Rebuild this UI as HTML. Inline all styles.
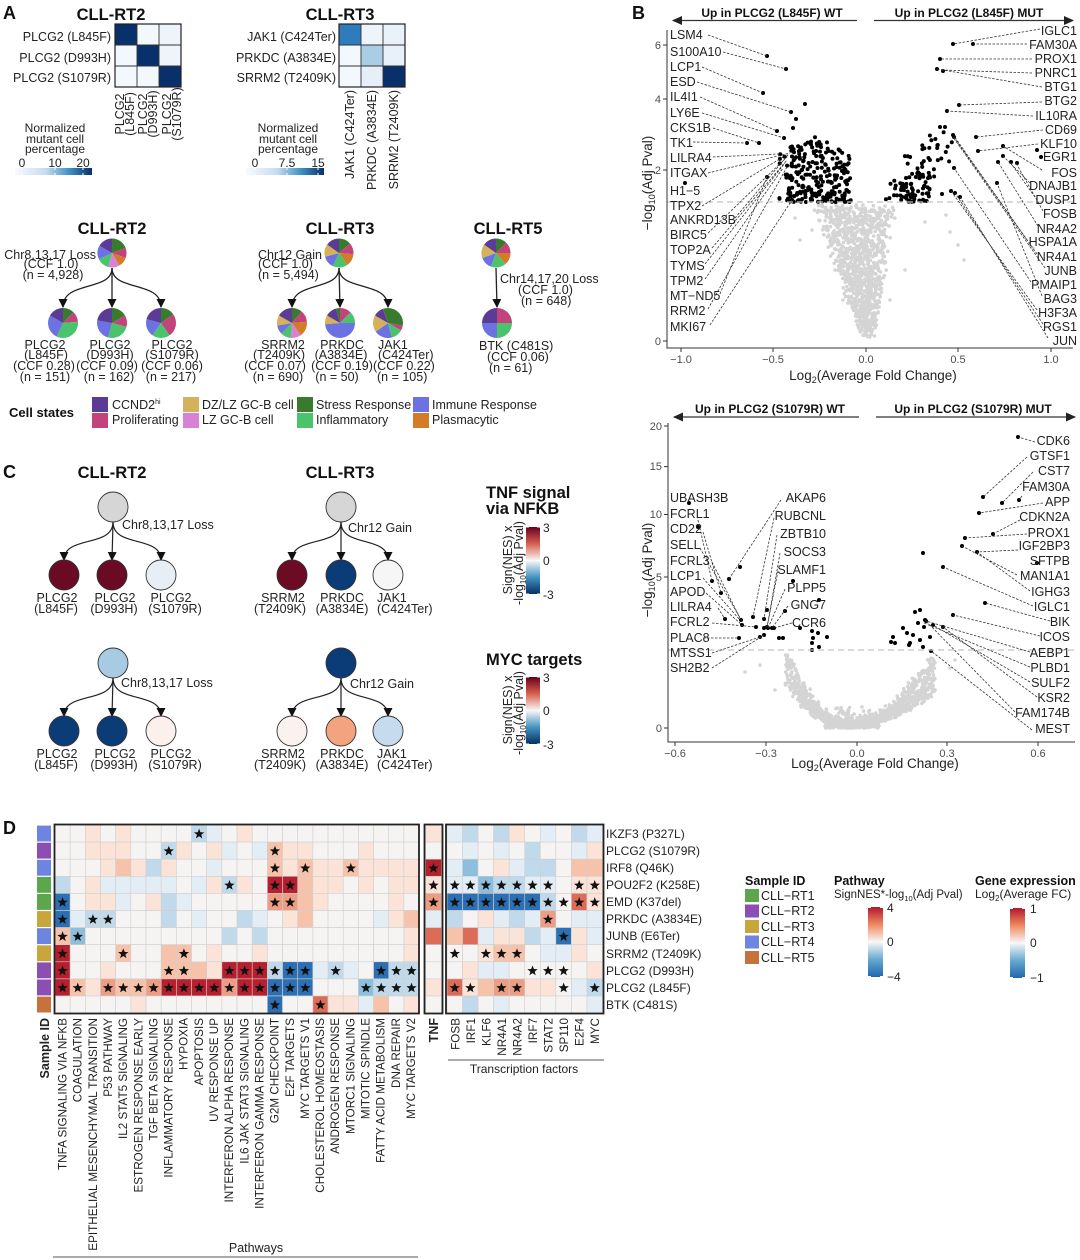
<!DOCTYPE html>
<html><head><meta charset="utf-8">
<style>
html,body{margin:0;padding:0;background:#fff;}
svg{display:block;font-family:"Liberation Sans",Arial,sans-serif;}
</style></head><body>
<svg id="s" width="1080" height="1260" viewBox="0 0 1080 1260" xmlns="http://www.w3.org/2000/svg">
<defs>
<marker id="ah" markerWidth="9" markerHeight="9" refX="8" refY="4.5" orient="auto" markerUnits="userSpaceOnUse"><path d="M0,0 L9,4.5 L0,9 z" fill="#111"/></marker>
<marker id="ah2" markerWidth="10" markerHeight="10" refX="9" refY="5" orient="auto" markerUnits="userSpaceOnUse"><path d="M0,0.5 L10,5 L0,9.5 z" fill="#222"/></marker>
<linearGradient id="gA" x1="0" x2="1" y1="0" y2="0"><stop offset="0" stop-color="#f7fbff"/><stop offset="0.4" stop-color="#c6dbef"/><stop offset="0.7" stop-color="#4292c6"/><stop offset="1" stop-color="#08306b"/></linearGradient>
<linearGradient id="gRB" x1="0" x2="0" y1="0" y2="1"><stop offset="0" stop-color="#67001f"/><stop offset="0.25" stop-color="#d6604d"/><stop offset="0.5" stop-color="#f7f7f7"/><stop offset="0.75" stop-color="#4393c3"/><stop offset="1" stop-color="#053061"/></linearGradient>
<linearGradient id="gRB2" x1="0" x2="0" y1="0" y2="1"><stop offset="0" stop-color="#b2182b"/><stop offset="0.25" stop-color="#ef8a62"/><stop offset="0.5" stop-color="#f7f7f7"/><stop offset="0.75" stop-color="#67a9cf"/><stop offset="1" stop-color="#2166ac"/></linearGradient>
</defs>
<rect width="1080" height="1260" fill="#fff"/>

<!-- ================= PANEL A ================= -->
<g fill="#222">
<text x="3" y="19" font-size="18" font-weight="bold" fill="#111">A</text>
<text x="111" y="20" font-size="16.5" font-weight="bold" text-anchor="middle" fill="#111">CLL-RT2</text>
<text x="340" y="20" font-size="16.5" font-weight="bold" text-anchor="middle" fill="#111">CLL-RT3</text>

<rect x="115" y="24" width="22" height="21" fill="#08306b"/>
<rect x="137" y="24" width="22" height="21" fill="#f3f8fc"/>
<rect x="159" y="24" width="22" height="21" fill="#eef4fa"/>
<rect x="115" y="45" width="22" height="21" fill="#f3f8fc"/>
<rect x="137" y="45" width="22" height="21" fill="#08306b"/>
<rect x="159" y="45" width="22" height="21" fill="#eef4fa"/>
<rect x="115" y="66" width="22" height="21" fill="#f3f8fc"/>
<rect x="137" y="66" width="22" height="21" fill="#f3f8fc"/>
<rect x="159" y="66" width="22" height="21" fill="#08306b"/>
<path d="M137,24V87M159,24V87M115,45H181M115,66H181" stroke="#333" stroke-width="0.9"/>
<rect x="115" y="24" width="66" height="63" fill="none" stroke="#222" stroke-width="1.2"/>
<g font-size="12.5" text-anchor="end">
<text x="111" y="41">PLCG2 (L845F)</text>
<text x="111" y="62">PLCG2 (D993H)</text>
<text x="111" y="82">PLCG2 (S1079R)</text>
</g>
<g font-size="12.5" text-anchor="middle">
<text transform="translate(124,114) rotate(-90)">PLCG2</text>
<text transform="translate(134,114) rotate(-90)">(L845F)</text>
<text transform="translate(147,114) rotate(-90)">PLCG2</text>
<text transform="translate(157,114) rotate(-90)">(D993H)</text>
<text transform="translate(171,114) rotate(-90)">PLCG2</text>
<text transform="translate(181,114) rotate(-90)">(S1079R)</text>
</g>
<g font-size="12" text-anchor="middle">
<text x="55" y="132">Normalized</text>
<text x="55" y="143">mutant cell</text>
<text x="55" y="153">percentage</text>
<text x="22" y="167">0</text><text x="55" y="167">10</text><text x="83" y="167">20</text>
</g>
<rect x="15" y="168" width="77" height="7" fill="url(#gA)"/>
<path d="M22,168v2M55,168v2M83,168v2M22,175v-2M55,175v-2M83,175v-2" stroke="#fff" stroke-width="1"/>

<rect x="339" y="24" width="22" height="21" fill="#2e7cbc"/>
<rect x="361" y="24" width="22" height="21" fill="#eef4fa"/>
<rect x="383" y="24" width="22" height="21" fill="#eaf2f9"/>
<rect x="339" y="45" width="22" height="21" fill="#f3f8fc"/>
<rect x="361" y="45" width="22" height="21" fill="#a8cde4"/>
<rect x="383" y="45" width="22" height="21" fill="#e8f1f9"/>
<rect x="339" y="66" width="22" height="21" fill="#f3f8fc"/>
<rect x="361" y="66" width="22" height="21" fill="#e6eff8"/>
<rect x="383" y="66" width="22" height="21" fill="#08306b"/>
<path d="M361,24V87M383,24V87M339,45H405M339,66H405" stroke="#333" stroke-width="0.9"/>
<rect x="339" y="24" width="66" height="63" fill="none" stroke="#222" stroke-width="1.2"/>
<g font-size="12.5" text-anchor="end">
<text x="336" y="41">JAK1 (C424Ter)</text>
<text x="336" y="62">PRKDC (A3834E)</text>
<text x="336" y="82">SRRM2 (T2409K)</text>
<text transform="translate(354,90) rotate(-90)">JAK1 (C424Ter)</text>
<text transform="translate(376,90) rotate(-90)">PRKDC (A3834E)</text>
<text transform="translate(398,90) rotate(-90)">SRRM2 (T2409K)</text>
</g>
<g font-size="12" text-anchor="middle">
<text x="288" y="132">Normalized</text>
<text x="288" y="143">mutant cell</text>
<text x="288" y="153">percentage</text>
<text x="255" y="167">0</text><text x="287" y="167">7.5</text><text x="318" y="167">15</text>
</g>
<rect x="246" y="168" width="78" height="7" fill="url(#gA)"/>
<path d="M255,168v2M287,168v2M318,168v2M255,175v-2M287,175v-2M318,175v-2" stroke="#fff" stroke-width="1"/>

<g font-size="16.5" font-weight="bold" text-anchor="middle" fill="#111">
<text x="112" y="234">CLL-RT2</text>
<text x="340" y="234">CLL-RT3</text>
<text x="508" y="234">CLL-RT5</text>
</g>
<g fill="none" stroke="#222" stroke-width="1.3">
<path d="M112,268 C112,292 63,280 63,307" marker-end="url(#ah)"/>
<path d="M112,268 L112,307" marker-end="url(#ah)"/>
<path d="M112,268 C112,292 161,280 161,307" marker-end="url(#ah)"/>
<path d="M339,268 C339,292 292,280 292,307" marker-end="url(#ah)"/>
<path d="M339,268 L340,307" marker-end="url(#ah)"/>
<path d="M339,268 C339,292 388,280 388,307" marker-end="url(#ah)"/>
<path d="M496,268 L497,307" marker-end="url(#ah)"/>
</g>
<g id="pies"></g>
<g font-size="12.5">
<text x="96" y="259" text-anchor="end">Chr8,13,17 Loss</text>
<text x="51" y="268" text-anchor="middle">(CCF 1.0)</text>
<text x="53" y="279" text-anchor="middle">(n = 4,928)</text>
<text x="258" y="259">Chr12 Gain</text>
<text x="258" y="268">(CCF 1.0)</text>
<text x="258" y="279">(n = 5,494)</text>
<text x="500" y="283">Chr14,17,20 Loss</text>
<text x="518" y="294">(CCF 1.0)</text>
<text x="521" y="305">(n = 648)</text>
</g>
<g font-size="12.5" text-anchor="middle">
<text x="45" y="349">PLCG2</text><text x="46" y="359">(L845F)</text><text x="44" y="370">(CCF 0.28)</text><text x="45" y="381">(n = 151)</text>
<text x="110" y="349">PLCG2</text><text x="110" y="359">(D993H)</text><text x="107" y="370">(CCF 0.09)</text><text x="109" y="381">(n = 162)</text>
<text x="172" y="349">PLCG2</text><text x="172" y="359">(S1079R)</text><text x="172" y="370">(CCF 0.06)</text><text x="171" y="381">(n = 217)</text>
<text x="283" y="349">SRRM2</text><text x="279" y="359">(T2409K)</text><text x="275" y="370">(CCF 0.07)</text><text x="278" y="381">(n = 690)</text>
<text x="342" y="349">PRKDC</text><text x="341" y="359">(A3834E)</text><text x="342" y="370">(CCF 0.19)</text><text x="337" y="381">(n = 50)</text>
</g>
<g font-size="12.5">
<text x="378" y="349">JAK1</text><text x="378" y="359">(C424Ter)</text><text x="373" y="370">(CCF 0.22)</text><text x="377" y="381">(n = 105)</text>
<text x="479" y="350">BTK (C481S)</text><text x="487" y="361">(CCF 0.06)</text><text x="489" y="372">(n = 61)</text>
</g>
<text x="9" y="417" font-size="13" font-weight="bold" fill="#111">Cell states</text>
<rect x="92" y="397" width="16" height="15" fill="#5b3b93"/>
<rect x="92" y="413" width="16" height="15" fill="#c3437b"/>
<rect x="183" y="397" width="16" height="15" fill="#d4b15a"/>
<rect x="183" y="413" width="16" height="15" fill="#d981d4"/>
<rect x="297" y="397" width="16" height="15" fill="#387a2e"/>
<rect x="297" y="413" width="16" height="15" fill="#4ac46c"/>
<rect x="413" y="397" width="16" height="15" fill="#6c72e2"/>
<rect x="413" y="413" width="16" height="15" fill="#d27b29"/>
<g font-size="12.5">
<text x="112" y="409">CCND2<tspan font-size="7" dy="-5">hi</tspan></text>
<text x="112" y="424">Proliferating</text>
<text x="202" y="409">DZ/LZ GC-B cell</text>
<text x="202" y="424">LZ GC-B cell</text>
<text x="316" y="409">Stress Response</text>
<text x="316" y="424">Inflammatory</text>
<text x="432" y="409">Immune Response</text>
<text x="432" y="424">Plasmacytic</text>
</g>
</g>

<!-- ================= PANEL C ================= -->
<g fill="#222">
<text x="3" y="478" font-size="18" font-weight="bold" fill="#111">C</text>
<text x="112" y="478" font-size="16.5" font-weight="bold" text-anchor="middle" fill="#111">CLL-RT2</text>
<text x="340" y="478" font-size="16.5" font-weight="bold" text-anchor="middle" fill="#111">CLL-RT3</text>
<g fill="none" stroke="#222" stroke-width="1.2">
<path d="M113,522 C113,548 64,535 64,560" marker-end="url(#ah)"/>
<path d="M113,522 L112,560" marker-end="url(#ah)"/>
<path d="M113,522 C113,548 161,535 161,560" marker-end="url(#ah)"/>
<path d="M341,522 C341,548 292,535 292,560" marker-end="url(#ah)"/>
<path d="M341,522 L341,560" marker-end="url(#ah)"/>
<path d="M341,522 C341,548 388,535 388,560" marker-end="url(#ah)"/>
<path d="M113,678 C113,704 64,691 64,716" marker-end="url(#ah)"/>
<path d="M113,678 L112,716" marker-end="url(#ah)"/>
<path d="M113,678 C113,704 161,691 161,716" marker-end="url(#ah)"/>
<path d="M341,678 C341,704 292,691 292,716" marker-end="url(#ah)"/>
<path d="M341,678 L341,716" marker-end="url(#ah)"/>
<path d="M341,678 C341,704 388,691 388,716" marker-end="url(#ah)"/>
</g>
<g stroke="#333" stroke-width="0.9">
<circle cx="113" cy="507" r="15" fill="#d6d6d6"/>
<circle cx="64" cy="575" r="15" fill="#6a0a24"/>
<circle cx="112" cy="575" r="15" fill="#6a0a24"/>
<circle cx="161" cy="575" r="15" fill="#e7eef6"/>
<circle cx="341" cy="507" r="15" fill="#d6d6d6"/>
<circle cx="292" cy="575" r="15" fill="#6e0b24"/>
<circle cx="341" cy="575" r="15" fill="#0b3c78"/>
<circle cx="388" cy="575" r="15" fill="#f6f6f6"/>
<circle cx="113" cy="663" r="15" fill="#a6cbe3"/>
<circle cx="64" cy="731" r="15" fill="#0b3c78"/>
<circle cx="112" cy="731" r="15" fill="#0b3c78"/>
<circle cx="161" cy="731" r="15" fill="#fbf0ec"/>
<circle cx="341" cy="663" r="15" fill="#0b3c78"/>
<circle cx="292" cy="731" r="15" fill="#fbf2ef"/>
<circle cx="341" cy="731" r="15" fill="#f3a47f"/>
<circle cx="388" cy="731" r="15" fill="#c6dcee"/>
</g>
<g font-size="12.5">
<text x="122" y="529">Chr8,13,17 Loss</text>
<text x="348" y="532">Chr12 Gain</text>
<text x="121" y="687">Chr8,13,17 Loss</text>
<text x="350" y="688">Chr12 Gain</text>
</g>
<g font-size="12.5" text-anchor="middle">
<text x="57" y="602">PLCG2</text><text x="56" y="613">(L845F)</text>
<text x="115" y="602">PLCG2</text><text x="114" y="613">(D993H)</text>
<text x="171" y="602">PLCG2</text><text x="175" y="613">(S1079R)</text>
<text x="283" y="602">SRRM2</text><text x="280" y="613">(T2409K)</text>
<text x="342" y="602">PRKDC</text><text x="342" y="613">(A3834E)</text>
<text x="57" y="758">PLCG2</text><text x="56" y="769">(L845F)</text>
<text x="115" y="758">PLCG2</text><text x="114" y="769">(D993H)</text>
<text x="171" y="758">PLCG2</text><text x="175" y="769">(S1079R)</text>
<text x="283" y="758">SRRM2</text><text x="280" y="769">(T2409K)</text>
<text x="342" y="758">PRKDC</text><text x="342" y="769">(A3834E)</text>
</g>
<g font-size="12.5">
<text x="377" y="602">JAK1</text><text x="377" y="613">(C424Ter)</text>
<text x="377" y="758">JAK1</text><text x="377" y="769">(C424Ter)</text>
</g>
<g font-size="16.5" font-weight="bold" fill="#111">
<text x="486" y="498">TNF signal</text>
<text x="486" y="514">via NFKB</text>
<text x="486" y="665">MYC targets</text>
</g>
<rect x="526" y="527" width="14" height="67" fill="url(#gRB)"/>
<path d="M526,527h3M537,527h3M526,560.5h3M537,560.5h3M526,594h3M537,594h3" stroke="#fff"/>
<rect x="526" y="677" width="14" height="67" fill="url(#gRB)"/>
<path d="M526,677h3M537,677h3M526,710.5h3M537,710.5h3M526,744h3M537,744h3" stroke="#fff"/>
<g font-size="12">
<text x="543" y="532">3</text><text x="543" y="565">0</text><text x="543" y="599">-3</text>
<text x="543" y="682">3</text><text x="543" y="715">0</text><text x="543" y="749">-3</text>
</g>
<g font-size="12.5" text-anchor="middle">
<text transform="translate(512,560) rotate(-90)">Sign(NES) x</text>
<text transform="translate(523,563) rotate(-90)">-log<tspan font-size="8" dy="3">10</tspan><tspan dy="-3">(Adj Pval)</tspan></text>
<text transform="translate(512,710) rotate(-90)">Sign(NES) x</text>
<text transform="translate(523,713) rotate(-90)">-log<tspan font-size="8" dy="3">10</tspan><tspan dy="-3">(Adj Pval)</tspan></text>
</g>
</g>

<!-- ================= PANEL B ================= -->
<text x="632" y="19" font-size="18" font-weight="bold" fill="#111">B</text>
<g id="v1pts"></g>
<g id="v2pts"></g>
<g fill="#222">
<g stroke="#333" stroke-width="1.3" fill="none">
<path d="M857,20.5 L673,20.5" marker-end="url(#ah2)"/>
<path d="M874,20.5 L1073,20.5" marker-end="url(#ah2)"/>
<path d="M859,417 L674,417" marker-end="url(#ah2)"/>
<path d="M876,417 L1075,417" marker-end="url(#ah2)"/>
</g>
<g font-size="12" font-weight="bold" text-anchor="middle" fill="#111">
<text x="772" y="17">Up in PLCG2 (L845F) WT</text>
<text x="969" y="17">Up in PLCG2 (L845F) MUT</text>
<text x="770" y="413">Up in PLCG2 (S1079R) WT</text>
<text x="973" y="413">Up in PLCG2 (S1079R) MUT</text>
</g>
<line x1="667" y1="202" x2="1073" y2="202" stroke="#c4c4c4" stroke-width="1.2" stroke-dasharray="6,4"/>
<line x1="668" y1="650" x2="1075" y2="650" stroke="#c4c4c4" stroke-width="1.2" stroke-dasharray="6,4"/>
<g stroke="#333" stroke-width="1" fill="none">
<path d="M667,30 V348 H1073"/>
<path d="M663,341h4M663,170h4M663,99h4M663,45h4"/>
<path d="M681,348v4M773,348v4M866,348v4M958,348v4M1051,348v4"/>
<path d="M668,423 V742 H1075"/>
<path d="M664,728h4M664,577h4M664,514.5h4M664,466.6h4M664,426h4"/>
<path d="M675,742v4M766,742v4M857,742v4M947,742v4M1038,742v4"/>
</g>
<g font-size="11" fill="#4d4d4d">
<g text-anchor="end">
<text x="661" y="345">0</text><text x="661" y="174">2</text><text x="661" y="103">4</text><text x="661" y="49">6</text>
<text x="662" y="732">0</text><text x="662" y="581">5</text><text x="662" y="518">10</text><text x="662" y="470">15</text><text x="662" y="430">20</text>
</g>
<g text-anchor="middle">
<text x="681" y="363">−1.0</text><text x="773" y="363">−0.5</text><text x="866" y="363">0.0</text><text x="958" y="363">0.5</text><text x="1051" y="363">1.0</text>
<text x="675" y="757">−0.6</text><text x="766" y="757">−0.3</text><text x="857" y="757">0.0</text><text x="947" y="757">0.3</text><text x="1038" y="757">0.6</text>
</g>
</g>
<g font-size="13.5" text-anchor="middle" fill="#222">
<text x="873" y="380">Log<tspan font-size="9" dy="3">2</tspan><tspan dy="-3">(Average Fold Change)</tspan></text>
<text x="875" y="768">Log<tspan font-size="9" dy="3">2</tspan><tspan dy="-3">(Average Fold Change)</tspan></text>
<text transform="translate(652,183) rotate(-90)">−log<tspan font-size="9" dy="3">10</tspan><tspan dy="-3">(Adj Pval)</tspan></text>
<text transform="translate(652,570) rotate(-90)">−log<tspan font-size="9" dy="3">10</tspan><tspan dy="-3">(Adj Pval)</tspan></text>
</g>
<g stroke="#333" stroke-width="0.8" stroke-dasharray="2.5,1.5" fill="none">
<path d="M708,35L767,56M723,52L786,69M702,67L763,93M697,82L791,112M700,97L777,131M702,113L784,138M713,128L759,143M693,142L747,143M713,157L778,154M708,173L790,153M702,206L788,154M735,218L788,155M708,233L787,157M712,248L787,160M705,264L785,163M705,279L783,168M720,294L767,177M708,309L787,167M710,325L792,200"/>
<path d="M1040,29L953,44M1027,44L973,44M1032,59L940,59M1032,73L942,70M1042,87L937,69M1042,102L959,105M1033,116L947,111M1043,130L976,137M1038,144L978,151M1042,170L1003,146M1030,183L1003,156M1035,197L1010,162M1043,211L1016,163M1038,226L998,162M1027,240L953,136M1037,254L954,136M1045,268L953,137M1031,282L954,168M1042,296L997,183M1037,310L951,191M1043,324L955,193M1048,338L960,197"/>
<path d="M698,520L712,581M703,532L721,593M700,548L740,618M712,562L742,622M703,578L740,620M706,593L742,625M718,608L725,619M712,623L756,627M703,638L739,638M712,653L760,637M712,668L764,635"/>
<path d="M781,500L729,579M774,518L753,617M777,535L764,619M780,553L767,628M778,571L767,627M785,589L768,628M788,606L772,628M792,623L774,628"/>
<path d="M1035,442L1018,437M1027,457L983,497M1033,472L1002,503M1022,496L1019,500M1043,503L979,513M1020,520L993,534M1027,534L965,538M1018,550L977,552M1017,575L962,546M1030,591L977,552M1033,606L943,567M1050,621L985,603M1040,636L953,615M1030,652L926,621M1030,667L924,623M1030,682L933,625M1037,697L943,627M1015,712L925,620M1032,730L931,651"/>
</g>
<g font-size="12.5" fill="#222">
<text x="670" y="39">LSM4</text><text x="670" y="56">S100A10</text><text x="670" y="71">LCP1</text><text x="670" y="86">ESD</text><text x="670" y="101">IL4I1</text><text x="670" y="117">LY6E</text><text x="670" y="132">CKS1B</text><text x="670" y="147">TK1</text><text x="670" y="162">LILRA4</text><text x="670" y="177">ITGAX</text><text x="670" y="195">H1−5</text><text x="670" y="210">TPX2</text><text x="670" y="224">ANKRD13B</text><text x="670" y="239">BIRC5</text><text x="670" y="254">TOP2A</text><text x="670" y="270">TYMS</text><text x="670" y="285">TPM2</text><text x="670" y="300">MT−ND5</text><text x="670" y="315">RRM2</text><text x="670" y="331">MKI67</text>
<g text-anchor="end">
<text x="1077" y="35">IGLC1</text><text x="1077" y="49">FAM30A</text><text x="1077" y="63">PROX1</text><text x="1077" y="77">PNRC1</text><text x="1077" y="91">BTG1</text><text x="1077" y="105">BTG2</text><text x="1077" y="120">IL10RA</text><text x="1077" y="134">CD69</text><text x="1077" y="148">KLF10</text><text x="1077" y="161">EGR1</text><text x="1077" y="177">FOS</text><text x="1077" y="190">DNAJB1</text><text x="1077" y="204">DUSP1</text><text x="1077" y="218">FOSB</text><text x="1077" y="233">NR4A2</text><text x="1077" y="246">HSPA1A</text><text x="1077" y="261">NR4A1</text><text x="1077" y="275">JUNB</text><text x="1077" y="289">PMAIP1</text><text x="1077" y="303">BAG3</text><text x="1077" y="317">H3F3A</text><text x="1077" y="331">RGS1</text><text x="1077" y="345">JUN</text>
</g>
<text x="670" y="502">UBASH3B</text><text x="670" y="518">FCRL1</text><text x="670" y="533">CD22</text><text x="670" y="549">SELL</text><text x="670" y="565">FCRL3</text><text x="670" y="580">LCP1</text><text x="670" y="596">APOD</text><text x="670" y="611">LILRA4</text><text x="670" y="626">FCRL2</text><text x="670" y="642">PLAC8</text><text x="670" y="657">MTSS1</text><text x="670" y="672">SH2B2</text>
<g text-anchor="end">
<text x="826" y="502">AKAP6</text><text x="826" y="520">RUBCNL</text><text x="826" y="538">ZBTB10</text><text x="826" y="556">SOCS3</text><text x="826" y="574">SLAMF1</text><text x="826" y="592">PLPP5</text><text x="826" y="609">GNG7</text><text x="826" y="627">CCR6</text>
<text x="1070" y="445">CDK6</text><text x="1070" y="460">GTSF1</text><text x="1070" y="475">CST7</text><text x="1070" y="491">FAM30A</text><text x="1070" y="506">APP</text><text x="1070" y="521">CDKN2A</text><text x="1070" y="537">PROX1</text><text x="1070" y="550">IGF2BP3</text><text x="1070" y="565">SFTPB</text><text x="1070" y="580">MAN1A1</text><text x="1070" y="596">IGHG3</text><text x="1070" y="611">IGLC1</text><text x="1070" y="626">BIK</text><text x="1070" y="641">ICOS</text><text x="1070" y="657">AEBP1</text><text x="1070" y="672">PLBD1</text><text x="1070" y="687">SULF2</text><text x="1070" y="702">KSR2</text><text x="1070" y="717">FAM174B</text><text x="1070" y="733">MEST</text>
</g>
</g>
</g>

<!-- ================= PANEL D ================= -->
<text x="3" y="834" font-size="18" font-weight="bold" fill="#111">D</text>
<g id="hm"></g>
<g fill="none" stroke="#222" stroke-width="1.8">
<rect x="54.5" y="824.5" width="364.5" height="189"/>
<rect x="424.5" y="824.5" width="18" height="189"/>
<rect x="446" y="824.5" width="157.5" height="189"/>
</g>
<g font-size="12" fill="#222">
<text x="606" y="838">IKZF3 (P327L)</text>
<text x="606" y="855">PLCG2 (S1079R)</text>
<text x="606" y="872">IRF8 (Q46K)</text>
<text x="606" y="889">POU2F2 (K258E)</text>
<text x="606" y="906">EMD (K37del)</text>
<text x="606" y="923">PRKDC (A3834E)</text>
<text x="606" y="940">JUNB (E6Ter)</text>
<text x="606" y="958">SRRM2 (T2409K)</text>
<text x="606" y="975">PLCG2 (D993H)</text>
<text x="606" y="992">PLCG2 (L845F)</text>
<text x="606" y="1009">BTK (C481S)</text>
</g>
<g font-size="11.7" fill="#222" text-anchor="end">
<text transform="translate(66.5,1018) rotate(-90)">TNFA SIGNALING VIA NFKB</text>
<text transform="translate(81.7,1018) rotate(-90)">COAGULATION</text>
<text transform="translate(96.8,1018) rotate(-90)">EPITHELIAL MESENCHYMAL TRANSITION</text>
<text transform="translate(112,1018) rotate(-90)">P53 PATHWAY</text>
<text transform="translate(127.1,1018) rotate(-90)">IL2 STAT5 SIGNALING</text>
<text transform="translate(142.3,1018) rotate(-90)">ESTROGEN RESPONSE EARLY</text>
<text transform="translate(157.4,1018) rotate(-90)">TGF BETA SIGNALING</text>
<text transform="translate(172.6,1018) rotate(-90)">INFLAMMATORY RESPONSE</text>
<text transform="translate(187.7,1018) rotate(-90)">HYPOXIA</text>
<text transform="translate(202.9,1018) rotate(-90)">APOPTOSIS</text>
<text transform="translate(218,1018) rotate(-90)">UV RESPONSE UP</text>
<text transform="translate(233.2,1018) rotate(-90)">INTERFERON ALPHA RESPONSE</text>
<text transform="translate(248.3,1018) rotate(-90)">IL6 JAK STAT3 SIGNALING</text>
<text transform="translate(263.5,1018) rotate(-90)">INTERFERON GAMMA RESPONSE</text>
<text transform="translate(278.6,1018) rotate(-90)">G2M CHECKPOINT</text>
<text transform="translate(293.8,1018) rotate(-90)">E2F TARGETS</text>
<text transform="translate(308.9,1018) rotate(-90)">MYC TARGETS V1</text>
<text transform="translate(324.1,1018) rotate(-90)">CHOLESTEROL HOMEOSTASIS</text>
<text transform="translate(339.2,1018) rotate(-90)">ANDROGEN RESPONSE</text>
<text transform="translate(354.4,1018) rotate(-90)">MTORC1 SIGNALING</text>
<text transform="translate(369.5,1018) rotate(-90)">MITOTIC SPINDLE</text>
<text transform="translate(384.7,1018) rotate(-90)">FATTY ACID METABOLISM</text>
<text transform="translate(399.8,1018) rotate(-90)">DNA REPAIR</text>
<text transform="translate(415,1018) rotate(-90)">MYC TARGETS V2</text>
<text transform="translate(459.5,1018) rotate(-90)">FOSB</text>
<text transform="translate(475,1018) rotate(-90)">IRF1</text>
<text transform="translate(490.5,1018) rotate(-90)">KLF6</text>
<text transform="translate(506,1018) rotate(-90)">NR4A1</text>
<text transform="translate(521.5,1018) rotate(-90)">NR4A2</text>
<text transform="translate(537,1018) rotate(-90)">IRF7</text>
<text transform="translate(552.5,1018) rotate(-90)">STAT2</text>
<text transform="translate(568,1018) rotate(-90)">SP110</text>
<text transform="translate(583.5,1018) rotate(-90)">E2F4</text>
<text transform="translate(599,1018) rotate(-90)">MYC</text>
<text transform="translate(438,1018) rotate(-90)" font-weight="bold" font-size="12.5">TNF</text>
<text transform="translate(49,1018) rotate(-90)" font-weight="bold" font-size="12.5">Sample ID</text>
</g>
<line x1="448" y1="1060" x2="604" y2="1060" stroke="#777" stroke-width="1.2"/>
<text x="524" y="1073" font-size="12" text-anchor="middle" fill="#222">Transcription factors</text>
<line x1="53" y1="1257" x2="418" y2="1257" stroke="#777" stroke-width="1.2"/>
<text x="256" y="1252" font-size="12.5" text-anchor="middle" fill="#222">Pathways</text>

<g fill="#222">
<text x="745" y="885" font-size="12.5" font-weight="bold" fill="#111">Sample ID</text>
<rect x="745" y="889" width="14" height="13" fill="#5ca64b"/>
<rect x="745" y="904.5" width="14" height="13" fill="#8b4fb3"/>
<rect x="745" y="920" width="14" height="13" fill="#c7a73c"/>
<rect x="745" y="935.5" width="14" height="13" fill="#6d84e0"/>
<rect x="745" y="951" width="14" height="13" fill="#c6733b"/>
<g font-size="12.5">
<text x="761" y="900">CLL−RT1</text>
<text x="761" y="915">CLL−RT2</text>
<text x="761" y="931">CLL−RT3</text>
<text x="761" y="946">CLL−RT4</text>
<text x="761" y="962">CLL−RT5</text>
</g>
<text x="834" y="885" font-size="12.5" font-weight="bold" fill="#111">Pathway</text>
<text x="834" y="898" font-size="11.5">SignNES*-log<tspan font-size="7.5" dy="3">10</tspan><tspan dy="-3">(Adj Pval)</tspan></text>
<rect x="868" y="907" width="15" height="70" fill="url(#gRB2)"/>
<path d="M868,907.5h3M880,907.5h3M868,942h3M880,942h3M868,976.5h3M880,976.5h3" stroke="#fff"/>
<text x="887" y="912" font-size="12">4</text><text x="887" y="946" font-size="12">0</text><text x="887" y="981" font-size="12">−4</text>
<text x="975" y="885" font-size="12.5" font-weight="bold" fill="#111">Gene expression</text>
<text x="975" y="898" font-size="12">Log<tspan font-size="8" dy="3">2</tspan><tspan dy="-3">(Average FC)</tspan></text>
<rect x="1010" y="908" width="15" height="70" fill="url(#gRB2)"/>
<path d="M1010,908.5h3M1022,908.5h3M1010,943h3M1022,943h3M1010,977.5h3M1022,977.5h3" stroke="#fff"/>
<text x="1030" y="913" font-size="12">1</text><text x="1030" y="947" font-size="12">0</text><text x="1030" y="982" font-size="12">−1</text>
</g>
</svg>
<script>
(function(){
var NS='http://www.w3.org/2000/svg';
function el(tag,a,p){var e=document.createElementNS(NS,tag);for(var k in a)e.setAttribute(k,a[k]);p.appendChild(e);return e;}
function mb(a){return function(){a|=0;a=a+0x6D2B79F5|0;var t=Math.imul(a^a>>>15,1|a);t=t+Math.imul(t^t>>>7,61|t)^t;return((t^t>>>14)>>>0)/4294967296;};}

var C={CC:'#5b3b93',PR:'#c3437b',DZ:'#d4b15a',LZ:'#d981d4',ST:'#387a2e',IN:'#4ac46c',IM:'#6c72e2',PL:'#d27b29'};
var pg=document.getElementById('pies');
function pie(cx,cy,r,sl){sl.forEach(function(s){var a0=(s[1]-90)*Math.PI/180,a1=(s[2]-90)*Math.PI/180;
var x0=cx+r*Math.cos(a0),y0=cy+r*Math.sin(a0),x1=cx+r*Math.cos(a1),y1=cy+r*Math.sin(a1);
var lg=(s[2]-s[1])>180?1:0;
el('path',{d:'M'+cx+','+cy+'L'+x0.toFixed(2)+','+y0.toFixed(2)+'A'+r+','+r+' 0 '+lg+' 1 '+x1.toFixed(2)+','+y1.toFixed(2)+'Z',fill:C[s[0]]},pg);});}
pie(112,253,14.5,[['ST',0,70],['PR',70,110],['PL',110,150],['LZ',150,195],['IN',195,245],['IM',245,300],['CC',300,360]]);
pie(63,323,15,[['ST',0,45],['PR',45,85],['IN',85,205],['IM',205,300],['CC',300,360]]);
pie(112,323,15,[['ST',0,60],['PR',60,105],['IN',105,195],['IM',195,280],['CC',280,360]]);
pie(161,323,15,[['ST',0,55],['PR',55,145],['IN',145,215],['IM',215,285],['CC',285,360]]);
pie(339,253,14.5,[['ST',0,50],['PR',50,95],['PL',95,145],['IN',145,205],['IM',205,255],['DZ',255,305],['CC',305,360]]);
pie(292,323,15,[['ST',0,40],['PR',40,85],['PL',85,145],['LZ',145,185],['IN',185,225],['IM',225,260],['DZ',260,300],['CC',300,360]]);
pie(340,323,15,[['PR',0,45],['IN',45,90],['IM',90,265],['DZ',265,300],['CC',300,345],['ST',345,360]]);
pie(388,323,15,[['ST',0,100],['PR',100,120],['IN',120,165],['IM',165,235],['DZ',235,300],['CC',300,340],['ST',340,360]]);
pie(496,253,14.5,[['ST',0,45],['PR',45,90],['PL',90,140],['IN',140,200],['IM',200,250],['DZ',250,305],['CC',305,360]]);
pie(497,323,15,[['PR',0,90],['IN',90,180],['IM',180,270],['CC',270,360]]);

var g1=document.getElementById('v1pts'),g2=document.getElementById('v2pts');
function dot(g,x,y,c,r){el('circle',{cx:x.toFixed(1),cy:y.toFixed(1),r:r,fill:c},g);}
var R=mb(11),i,x,y,f;
var GR='#d4d4d4';
for(i=0;i<1050;i++){f=Math.pow(R(),0.75);y=338-f*133;var c=868-14*f,w=7+40*f;x=c+(R()*2-1)*w*(0.55+0.45*R());dot(g1,x,y,GR,1.8);}
[[795,218],[800,240],[958,245],[964,260],[1033,248],[812,230],[950,232],[925,222],[843,300],[890,300],[870,320],[835,270],[905,270],[946,215]].forEach(function(p){dot(g1,p[0],p[1],GR,1.8);});
function topL(x){if(x<800)return 150-(x-786)*0.7;if(x<815)return 140-(x-800)*0.3;return 135+(x-815)*0.6;}
for(i=0;i<240;i++){x=787+R()*64;var t=topL(x);y=202-(202-t)*Math.pow(R(),1.4);dot(g1,x,y,'#000',2);}
for(i=0;i<10;i++){dot(g1,779+R()*9,152+R()*48,'#000',2);}
for(i=0;i<65;i++){x=900+R()*30;y=202-R()*50*Math.pow(R(),0.6);dot(g1,x,y,'#000',2);}
for(i=0;i<38;i++){x=884+R()*72;var yc=200-(x-884)*0.9;y=yc+(R()*2-1)*25;if(y>202)y=202-R()*8;if(y<122)y=122+R()*8;dot(g1,x,y,'#000',2);}
[[767,56],[786,69],[763,93],[791,112],[805,104],[796,119],[777,131],[784,138],[759,143],[747,143],[793,128],[792,200],[685,183],[767,177],
[953,44],[973,44],[940,59],[937,69],[943,71],[959,105],[947,111],[976,137],[978,151],[1003,146],[1003,156],[1011,162],[1017,163],[998,162],[953,135],[954,137],[954,168],[997,183],[951,191],[955,193],[960,197],[942,194],[940,127],[945,127],[1037,150],[1041,157]].forEach(function(p){dot(g1,p[0],p[1],'#000',2);});
for(i=0;i<1100;i++){x=785+R()*150;var dx=x-847;var cv=dx<0?0.021*dx*dx:0.0095*dx*dx;y=728-cv*(0.45+0.6*R())-R()*R()*10;if(y<655)y=655+R()*5;dot(g2,x,y,GR,1.8);}
for(i=0;i<220;i++){x=825+R()*55;y=728-R()*R()*25;dot(g2,x,y,GR,1.8);}
[[790,680],[745,672],[760,665],[930,668],[950,668],[955,660],[935,690],[775,690]].forEach(function(p){dot(g2,p[0],p[1],GR,1.8);});
[[689,503],[698,527],[712,581],[721,593],[725,619],[729,579],[740,567],[741,620],[742,625],[739,638],[753,617],[756,627],[764,619],[764,628],[767,610],[767,627],[760,637],[764,635],[772,628],[774,628],[785,611],[793,581],[800,628],[779,638],[783,638],[812,631],[818,633],[813,638],[812,643],[827,637],[812,650],[819,647],[819,600],[768,628],
[1018,437],[983,497],[1002,503],[1019,500],[979,513],[993,534],[965,538],[962,546],[977,552],[923,553],[1037,563],[943,567],[985,603],[953,615],[915,612],[920,610],[918,623],[924,627],[926,621],[933,625],[943,627],[903,628],[907,633],[913,635],[910,643],[920,640],[930,637],[893,637],[891,642],[895,643],[909,645],[923,647],[931,651],[925,620]].forEach(function(p){dot(g2,p[0],p[1],'#000',2);});

var P={w:'#f6f4f3',p:'#fbe3d7',q:'#f6c3aa',o:'#ec9d83',r:'#dc6b57',R:'#b51f2e',c:'#e3edf5',l:'#c0daeb',m:'#8dbfdd',b:'#4a91c7',B:'#2c6fb3'};
var PW=["wwpwpwwwwlcwpwwwwwwwwwww","wwpppwwlpwpcwcqppwwwpwww","wwwpqplpwwcwwwqpqppqpppp","lwpcccccwcplpwRRqppwpwpp","Bwppcwplcwwwwwooqpwwwwpw","Bcllwwwlwcwwlcwpqwwwwcpq","qmwwwwwwwwwlwlwwwwwwwwwp","Rwwwqwwqqwpwwpwwwwwwwwwp","RwwpwwwqqqpRRRlBBclcwBll","RqpoqqoRRRRoRRBBBwwwmlll","wwwwwpwwwwwwwwBwwrppcqwp"];
var PS=[[10],[8,15],[15,17,20],[12,15,16],[1,15,16],[1,3,4],[1,2],[1,5,9],[1,8,9,12,13,14,15,16,17,19,22,23,24],[1,2,4,5,6,7,8,9,10,11,12,13,14,15,16,17,21,22,23,24],[15,18]];
var TN="pwRpocrwwpw",TNS=[2,3,4];
var TF=["clwlpwcwlc","wcwcwlwwcp","cmwpcllwqq","ccmllccwpp","BBBBBBlwrp","lwpclcowcc","qrcpplcBpc","wwpqqwccpw","wpccwwwwwp","rpqooppwcl","wlwcwwwwwc"];
var TS=[[],[],[],[1,2,3,4,5,6,7,9,10],[1,2,3,4,5,6,7,8,9,10],[7],[8],[1,3,4,5],[6,7,8],[1,2,4,5,8,10],[]];
var SC=['#6d84e0','#8b4fb3','#6d84e0','#5ca64b','#5ca64b','#c7a73c','#6d84e0','#c7a73c','#8b4fb3','#8b4fb3','#c6733b'];
var hm=document.getElementById('hm');
var top0=825,rh=17.1;
function star(cx,cy,Rr){var r=Rr*0.42,pts=[];for(var k=0;k<10;k++){var a=-Math.PI/2+k*Math.PI/5,rr=k%2?r:Rr;pts.push((cx+rr*Math.cos(a)).toFixed(1)+','+(cy+rr*Math.sin(a)).toFixed(1));}el('polygon',{points:pts.join(' '),fill:'#111'},hm);}
function cell(x,y,w,h,col){el('rect',{x:x.toFixed(2),y:y.toFixed(2),width:w.toFixed(2),height:h.toFixed(2),fill:col,stroke:'#cfcfcf','stroke-width':0.6},hm);}
for(var r=0;r<11;r++){var yy=top0+r*rh;
 el('rect',{x:37,y:(yy+0.6).toFixed(1),width:14,height:(rh-1.2).toFixed(1),fill:SC[r]},hm);
 for(var k=0;k<24;k++){cell(55+k*15.17,yy,15.17,rh,P[PW[r][k]]);}
 cell(425.5,yy,16,rh,P[TN[r]]);
 for(k=0;k<10;k++){cell(447+k*15.55,yy,15.55,rh,P[TF[r][k]]);}
}
for(r=0;r<11;r++){var cy=top0+(r+0.5)*rh+0.5;
 PS[r].forEach(function(k){star(55+(k-0.5)*15.17,cy,5.4);});
 if(TNS.indexOf(r)>=0)star(433.5,cy,5.4);
 TS[r].forEach(function(k){star(447+(k-0.5)*15.55,cy,5.4);});
}
})();
</script>
</body></html>
